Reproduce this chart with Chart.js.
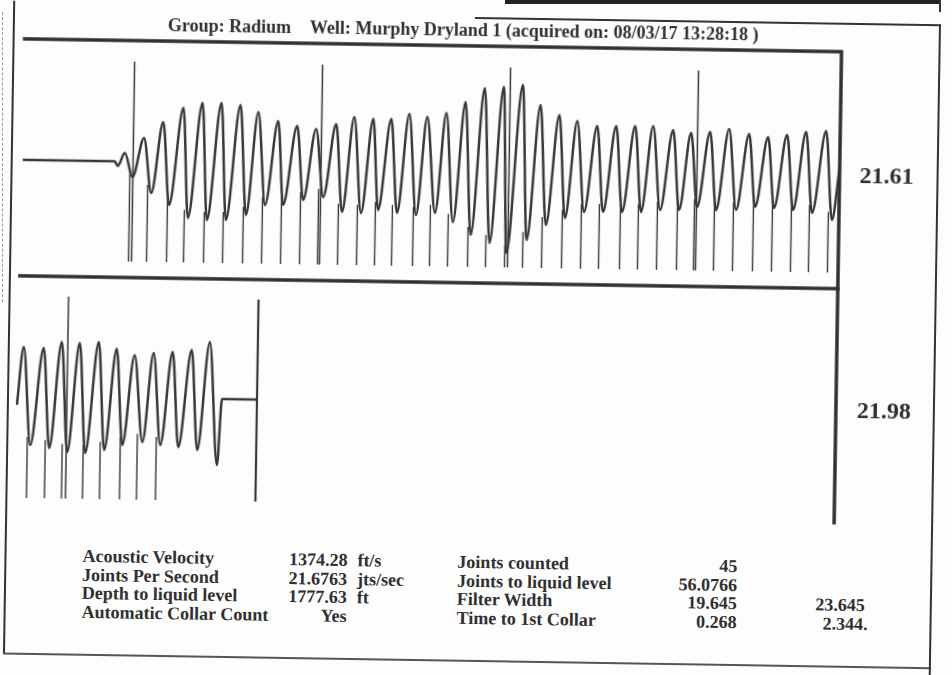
<!DOCTYPE html>
<html>
<head>
<meta charset="utf-8">
<script src="https://cdn.jsdelivr.net/npm/chart.js@4.4.0/dist/chart.umd.min.js"></script>
<style>
  body { margin: 0; background: #fff; }
  #page { position: relative; width: 952px; height: 675px; overflow: hidden; background: #fdfdfd; }
  #sheet { position: absolute; left: 0; top: 0; width: 952px; height: 675px;
           transform: rotate(0.9deg); transform-origin: 476px 337px; }
  canvas { position: absolute; left: 0; }
  .t { position: absolute; font-family: "Liberation Serif", "Times New Roman", serif;
       font-size: 18px; line-height: 18px; font-weight: bold; color: #303030; white-space: nowrap; }
  .r { text-align: right; }
  .big { font-size: 24px; line-height: 24px; width: 90px; text-align: center; }
  .ln { position: absolute; background: #333; }
</style>
</head>
<body>
<div id="page">
  <div class="ln" style="left:505px;top:0;width:436px;height:4px;background:#222"></div>
  <div class="ln" style="left:939px;top:0;width:2px;height:12px"></div>
  <div style="position:absolute;left:2px;top:12px;height:290px;border-left:1px dashed #999"></div>
  <div id="sheet">
    <!-- outer frame -->
    <div class="ln" style="left:8px;top:8px;width:2px;height:653px"></div>
    <div class="ln" style="left:8px;top:660px;width:928px;height:2px;background:#555"></div>
    <div class="ln" style="left:934px;top:17px;width:2px;height:670px"></div>
    <div class="ln" style="left:470px;top:17px;width:466px;height:2px"></div>

    <canvas id="topChart" width="952" height="300" style="top:0"></canvas>
    <canvas id="bottomChart" width="952" height="270" style="top:270px"></canvas>

    <div class="t" style="left:163px;top:21px">Group: Radium</div>
    <div class="t" style="left:305px;top:21px">Well: Murphy Dryland 1 (acquired on: 08/03/17 13:28:18 )</div>

    <div class="t big" style="left:839px;top:157px">21.61</div>
    <div class="t big" style="left:840px;top:392px">21.98</div>

    <div class="t" style="left:86px;top:553px">Acoustic Velocity</div>
    <div class="t" style="left:86px;top:571.5px">Joints Per Second</div>
    <div class="t" style="left:86px;top:590px">Depth to liquid level</div>
    <div class="t" style="left:86px;top:608.5px">Automatic Collar Count</div>

    <div class="t r" style="right:601px;top:553px">1374.28</div>
    <div class="t r" style="right:601px;top:571.5px">21.6763</div>
    <div class="t r" style="right:601px;top:590px">1777.63</div>
    <div class="t r" style="right:601px;top:608.5px">Yes</div>

    <div class="t" style="left:361px;top:553px">ft/s</div>
    <div class="t" style="left:361px;top:571.5px">jts/sec</div>
    <div class="t" style="left:361px;top:590px">ft</div>

    <div class="t" style="left:461px;top:553px">Joints counted</div>
    <div class="t" style="left:461px;top:571.5px">Joints to liquid level</div>
    <div class="t" style="left:461px;top:590px">Filter Width</div>
    <div class="t" style="left:461px;top:608.5px">Time to 1st Collar</div>

    <div class="t r" style="right:211px;top:553px">45</div>
    <div class="t r" style="right:211px;top:571.5px">56.0766</div>
    <div class="t r" style="right:211px;top:590px">19.645</div>
    <div class="t r" style="right:211px;top:608.5px">0.268</div>

    <div class="t r" style="right:83px;top:590px">23.645</div>
    <div class="t r" style="right:80px;top:608.5px">2.344.</div>
  </div>
</div>

<script>
// acoustic trace, first screen: time (ms) and amplitude at each turning point
const topTime = [-5, 225, 232.5, 250, 270, 297.5, 317.5, 345, 362.5, 395, 410, 442.5, 457.5, 490, 505,
  537.5, 555, 582.5, 602.5, 632.5, 647.5, 680, 697.5, 727.5, 747.5, 777.5, 795, 822.5, 842.5, 870,
  885, 915, 932.5, 960, 980, 1005, 1027.5, 1052.5, 1072.5, 1100, 1117.5, 1147.5, 1165, 1195, 1207.5,
  1242.5, 1257.5, 1287.5, 1305, 1335, 1352.5, 1380, 1400, 1430, 1447.5, 1477.5, 1495, 1525, 1542.5,
  1570, 1590, 1620, 1637.5, 1665, 1682.5, 1712.5, 1730, 1760, 1780, 1810, 1827.5, 1857.5, 1875,
  1905, 1922.5, 1952.5, 1970, 2002.5, 2020, 2037.5];
const topAmp = [0, 0, -4.6, 8.5, -15.4, 23.8, -31.1, 40.1, -42.8, 54.4, -55.5, 59.7, -57.2, 60, -56.9,
  58.3, -51.6, 51.6, -41.3, 42.9, -41, 38.2, -35.7, 35.5, -32.4, 40.8, -47.1, 48.1, -47.8, 46.4,
  -44.5, 46.7, -47.2, 52, -48.9, 49.2, -46.6, 53.5, -55.4, 64.8, -68, 79.1, -75.8, 80.4, -85.5,
  82.7, -72.2, 63, -56.9, 53.3, -49.6, 47.6, -43.3, 42.9, -43, 43.2, -42.7, 43.5, -42.4,
  43.8, -40.1, 40.1, -39.8, 37.4, -36.5, 38.7, -39.2, 42, -38.9, 37.3, -35.6, 34.6, -36.3,
  36.9, -38, 40.2, -40.7, 41.5, -47.4, 5.7];

// second screen
const bottomTime = [2040, 2055, 2075, 2105, 2122.5, 2150, 2167.5, 2195, 2212.5, 2242.5, 2260, 2287.5,
  2305, 2332.5, 2355, 2380, 2400, 2427.5, 2445, 2475, 2492.5, 2520, 2542.5, 2552.5, 2637.5];
const bottomAmp = [-9.2, 48.9, -49, 48.2, -51.7, 54.5, -55.4, 53.8, -56.1, 55.1, -52.8, 48.4,
  -47.5, 42.6, -44.2, 44.9, -46.9, 46.2, -48.7, 48.5, -51.4, 56.8, -66.1, 0, 0];

// collar picks (ms), every 10th joint marker, liquid level
const topCollarTime = [263.5, 308.5, 358.5, 401, 451, 498.5, 548.5, 596, 643.5, 691, 736, 786, 833.5,
  878.5, 921, 973.5, 1016, 1061, 1111, 1156, 1203.5, 1248.5, 1296, 1346, 1393.5, 1438.5, 1491, 1536,
  1583.5, 1633.5, 1676, 1726, 1773.5, 1823.5, 1871, 1918.5, 1963.5, 2011];
const topMarkerTime = [271, 741, 1211, 1681];
const bottomCollarTime = [2067.5, 2112.5, 2155, 2207.5, 2250, 2300, 2342.5, 2390];
const bottomMarkerTime = [2165];
const liquidLevelTime = [2640];

const topBase = -100, bottomBase = -102, markerTop = 100;

const INK = '#383838';

function tracePoints(times, amps) {
  return times.map((t, i) => ({ x: t, y: amps[i] }));
}

// collar line runs from the base up into the falling edge before the next trough
function collarPoints(collars, times, amps, base) {
  const pts = [];
  collars.forEach(c => {
    let top = base;
    for (let i = 1; i < times.length - 1; i++) {
      if (times[i] >= c && amps[i] < amps[i - 1] && amps[i] < amps[i + 1]) { top = amps[i] + 8; break; }
    }
    pts.push({ x: c, y: base }, { x: c, y: top }, { x: c, y: null });
  });
  return pts;
}

function markerPoints(times, low, high) {
  const pts = [];
  times.forEach(t => pts.push({ x: t, y: low }, { x: t, y: high }, { x: t, y: null }));
  return pts;
}

const panelFrame = {
  id: 'panelFrame',
  afterDatasetsDraw(chart, args, opts) {
    const { ctx, chartArea: a } = chart;
    ctx.save();
    ctx.strokeStyle = '#303030';
    ctx.lineWidth = 3.5;
    ctx.lineCap = 'square';
    ctx.beginPath();
    if (opts.sides.includes('top')) { ctx.moveTo(a.left, a.top); ctx.lineTo(a.right, a.top); }
    if (opts.sides.includes('right')) { ctx.moveTo(a.right, a.top); ctx.lineTo(a.right, a.bottom); }
    if (opts.sides.includes('bottom')) { ctx.moveTo(a.left - 1, a.bottom); ctx.lineTo(a.right, a.bottom); }
    ctx.stroke();
    ctx.restore();
  }
};

function makeChart(id, datasets, xr, yr, padding, sides) {
  return new Chart(document.getElementById(id), {
    type: 'line',
    data: { datasets: datasets },
    options: {
      responsive: false,
      animation: false,
      layout: { padding: padding },
      plugins: { legend: { display: false }, tooltip: { enabled: false }, panelFrame: { sides: sides } },
      scales: {
        x: { type: 'linear', min: xr[0], max: xr[1], display: false },
        y: { min: yr[0], max: yr[1], display: false }
      },
      elements: { point: { radius: 0 } }
    },
    plugins: [panelFrame]
  });
}

makeChart('topChart', [
  { data: tracePoints(topTime, topAmp), borderColor: INK, borderWidth: 2.5, cubicInterpolationMode: 'monotone' },
  { data: collarPoints(topCollarTime, topTime, topAmp, topBase), borderColor: INK, borderWidth: 1.4, spanGaps: false },
  { data: markerPoints(topMarkerTime, topBase, markerTop), borderColor: INK, borderWidth: 1.5, spanGaps: false }
], [-5, 2037.5], [-116, 121], { left: 20, top: 46, right: 115, bottom: 17 }, ['top', 'right', 'bottom']);

makeChart('bottomChart', [
  { data: tracePoints(bottomTime, bottomAmp), borderColor: INK, borderWidth: 2.5, cubicInterpolationMode: 'monotone' },
  { data: collarPoints(bottomCollarTime, bottomTime, bottomAmp, bottomBase), borderColor: INK, borderWidth: 1.4, spanGaps: false },
  { data: markerPoints(bottomMarkerTime, bottomBase, markerTop), borderColor: INK, borderWidth: 1.5, spanGaps: false },
  { data: markerPoints(liquidLevelTime, bottomBase, markerTop), borderColor: INK, borderWidth: 2.2, spanGaps: false }
], [2037.5, 4087.5], [-114, 120], { left: 17, top: 13, right: 115, bottom: 23 }, ['right']);
</script>
</body>
</html>
